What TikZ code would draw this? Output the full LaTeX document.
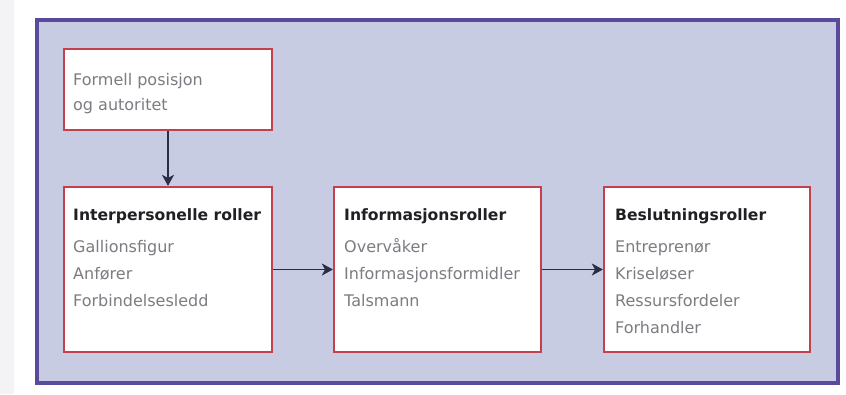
\documentclass[tikz,border=0pt]{standalone}
\usepackage{fontspec}
\setmainfont{DejaVu Sans}
\usetikzlibrary{arrows.meta}

\definecolor{panelfill}{HTML}{C7CCE2}
\definecolor{panelborder}{HTML}{5A4A9C}
\definecolor{boxborder}{HTML}{C3404C}
\definecolor{itemgrey}{HTML}{7C7C82}
\definecolor{titleink}{HTML}{202024}
\definecolor{arrowink}{HTML}{2A2E44}
\definecolor{sidestrip}{HTML}{F3F3F6}

\tikzset{
  rolebox/.style={draw=boxborder, line width=2.2pt, fill=white, inner sep=0pt,
                  minimum width=208pt, minimum height=165pt},
  topbox/.style={rolebox, minimum height=81pt},
  roletitle/.style={anchor=base west, inner sep=0pt, text=titleink,
                    font=\fontsize{15.6}{19}\selectfont\bfseries},
  roleitem/.style={anchor=base west, inner sep=0pt, text=itemgrey,
                   font=\fontsize{16}{19}\selectfont},
  flow/.style={draw=arrowink, line width=1.6pt,
               -{Stealth[length=11pt,width=12pt,inset=3pt]}},
}

\begin{document}
\begin{tikzpicture}[x=1pt,y=-1pt]
  % canvas and outer panel
  \useasboundingbox (0,0) rectangle (846,394);
  \fill[white] (0,0) rectangle (846,394);
  \fill[sidestrip] (0,0) rectangle (14,394);
  \draw[draw=panelborder, fill=panelfill, line width=4pt] (37,20) rectangle (838,383);

  % boxes
  \node[topbox]  (form)  at (168,89.5)  {};
  \node[rolebox] (inter) at (168,269.5) {};
  \node[rolebox, minimum width=207pt] (info)  at (437.5,269.5) {};
  \node[rolebox, minimum width=206pt] (besl)  at (707,269.5) {};

  % top box text
  \node[roleitem] (form1) at (73,85)  {Formell posisjon};
  \node[roleitem] (form2) at (73,110) {og autoritet};

  % interpersonal roles
  \node[roletitle] (interT) at (73,220) {Interpersonelle roller};
  \node[roleitem]  (inter1) at (73,252) {Gallionsfigur};
  \node[roleitem]  (inter2) at (73,279) {Anfører};
  \node[roleitem]  (inter3) at (73,306) {Forbindelsesledd};

  % informational roles
  \node[roletitle] (infoT) at (344,220) {Informasjonsroller};
  \node[roleitem]  (info1) at (344,252) {Overvåker};
  \node[roleitem]  (info2) at (344,279) {Informasjonsformidler};
  \node[roleitem]  (info3) at (344,306) {Talsmann};

  % decisional roles
  \node[roletitle] (beslT) at (615,220) {Beslutningsroller};
  \node[roleitem]  (besl1) at (615,252) {Entreprenør};
  \node[roleitem]  (besl2) at (615,279) {Kriseløser};
  \node[roleitem]  (besl3) at (615,306) {Ressursfordeler};
  \node[roleitem]  (besl4) at (615,333) {Forhandler};

  % connectors
  \draw[flow] (form.south) -- (inter.north);
  \draw[flow] (inter.east) -- (info.west);
  \draw[flow] (info.east) -- (besl.west);
\end{tikzpicture}
\end{document}
